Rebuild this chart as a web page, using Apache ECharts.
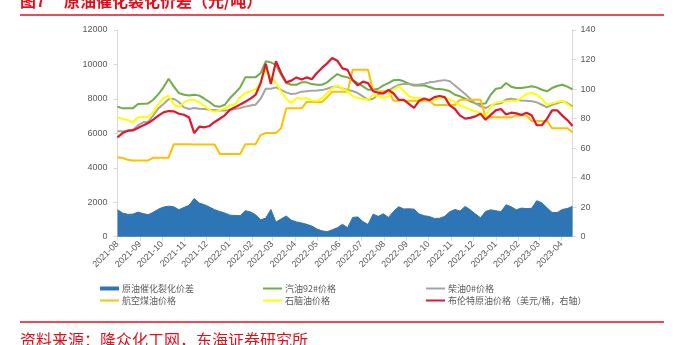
<!DOCTYPE html>
<html><head><meta charset="utf-8">
<script src="https://cdn.jsdelivr.net/npm/echarts@6/dist/echarts.min.js"></script>
<style>html,body{margin:0;padding:0;background:#fff;}#c{width:678px;height:345px;}</style>
</head><body><div id="c"></div>
<script>
// Weekly observation dates
const dates = [
'2021-08-01','2021-08-08','2021-08-15','2021-08-22','2021-08-29','2021-09-05','2021-09-12','2021-09-19','2021-09-26','2021-10-03',
'2021-10-10','2021-10-17','2021-10-24','2021-10-31','2021-11-07','2021-11-14','2021-11-21','2021-11-28','2021-12-05','2021-12-12',
'2021-12-19','2021-12-26','2022-01-02','2022-01-09','2022-01-16','2022-01-23','2022-01-30','2022-02-06','2022-02-13','2022-02-20',
'2022-02-27','2022-03-06','2022-03-13','2022-03-20','2022-03-27','2022-04-03','2022-04-10','2022-04-17','2022-04-24','2022-05-01',
'2022-05-08','2022-05-15','2022-05-22','2022-05-29','2022-06-05','2022-06-12','2022-06-19','2022-06-26','2022-07-03','2022-07-10',
'2022-07-17','2022-07-24','2022-07-31','2022-08-07','2022-08-14','2022-08-21','2022-08-28','2022-09-04','2022-09-11','2022-09-18',
'2022-09-25','2022-10-02','2022-10-09','2022-10-16','2022-10-23','2022-10-30','2022-11-06','2022-11-13','2022-11-20','2022-11-27',
'2022-12-04','2022-12-11','2022-12-18','2022-12-25','2023-01-01','2023-01-08','2023-01-15','2023-01-22','2023-01-29','2023-02-05',
'2023-02-12','2023-02-19','2023-02-26','2023-03-05','2023-03-12','2023-03-19','2023-03-26','2023-04-02','2023-04-09','2023-04-16'
];

// 原油催化裂化价差 (元/吨)
const crackSpread = [
1570,1370,1300,1310,1430,1340,1280,1420,1600,1720,
1770,1740,1570,1700,1820,2220,1950,1860,1720,1570,
1470,1370,1250,1230,1220,1510,1440,1280,980,1080,
1580,850,1030,1200,960,860,800,720,620,450,
340,290,400,520,720,520,1120,1150,880,710,
1310,1180,1330,1120,1470,1740,1610,1620,1600,1320,
1220,1170,1060,1070,1180,1450,1580,1490,1760,1560,
1320,1100,1470,1560,1510,1450,1850,1740,1560,1660,
1630,1650,2090,1970,1680,1410,1400,1580,1640,1760
];

// 汽油92#价格
const gasoline92 = [
7550,7450,7450,7450,7700,7720,7740,7950,8280,8670,
9170,8730,8340,8240,8200,8240,8190,8010,7820,7590,
7550,7660,8050,8340,8670,9250,9250,9250,9500,10180,
10120,9980,9400,8920,8820,8820,8960,8960,8860,8820,
8820,8960,9210,9440,9310,9250,9110,8920,8730,8530,
8530,8590,8780,8920,9090,9110,9020,8880,8780,8780,
8780,8690,8590,8570,8530,8440,8240,8150,8010,7860,
7740,7700,7740,8240,8590,8630,8920,8710,8630,8630,
8670,8730,8670,8530,8440,8630,8750,8820,8710,8550
];

// 柴油0#价格
const diesel0 = [
6115,6115,6150,6210,6460,6640,6680,7050,7450,7700,
7980,8010,7820,7510,7410,7470,7430,7410,7370,7350,
7330,7330,7360,7410,7470,7550,7620,7660,8010,8590,
8590,8670,8530,8380,8280,8320,8420,8440,8480,8490,
8510,8590,8690,8730,8600,8520,8460,8340,8150,7950,
8010,8240,8340,8480,8670,8820,8860,8860,8820,8840,
8880,8960,9000,9060,9090,9020,8780,8530,8280,8010,
7740,7570,7470,7620,7700,7740,7970,8010,7970,7910,
7890,7860,7800,7660,7510,7660,7740,7860,7760,7570
];

// 航空煤油价格
const jetFuel = [
4610,4570,4470,4430,4430,4430,4430,4590,4590,4590,
4590,5370,5370,5370,5370,5350,5350,5350,5350,5350,
4800,4800,4800,4800,4800,5370,5370,5370,5900,6020,
6020,6020,6290,7450,7450,7450,7450,7820,7820,7820,
7820,8100,8420,8420,8420,8420,9690,9690,9690,9690,
8450,8450,8450,8450,7890,7890,7890,7890,7890,7890,
7890,7890,7650,7650,7650,7650,7650,7950,7950,7950,
7950,7950,6930,6930,6930,6930,6930,6930,7040,7040,
7040,6720,6720,6720,6720,6300,6300,6300,6300,6060
];

// 石脑油价格
const naphtha = [
6930,6830,6770,6640,6930,6950,6970,7240,7700,8050,
8190,7700,7510,7800,7930,7930,7800,7600,7350,7260,
7350,7450,7620,7660,8100,8340,8440,8570,8920,9750,
9250,8920,8440,8010,7760,8050,8010,8050,7910,7890,
8050,8340,8630,8780,8600,8450,8150,8050,8010,7950,
8240,8150,8050,8150,8530,8730,8440,8150,8050,8050,
8010,7970,7950,8050,8090,7970,7820,7620,7510,7370,
7280,7180,6970,7570,7780,7840,7860,7890,7890,8050,
8280,8340,8240,8010,7660,7740,7820,7890,7700,7470
];

// 布伦特原油价格 (美元/桶, 右轴)
const brent = [
67.3,70.2,71.8,72.0,73.6,75.4,77.0,79.3,82.0,84.2,
85.1,84.9,83.3,82.6,80.8,70.2,74.5,74.1,75.0,77.7,
79.9,82.2,86.0,87.6,89.6,91.4,93.5,96.0,104.1,117.2,
103.4,118.8,110.9,104.5,105.7,107.9,106.4,107.9,106.6,110.9,
114.3,117.4,121.0,119.2,114.0,113.0,106.0,102.5,105.0,104.0,
98.5,97.5,97.0,99.5,97.0,92.7,92.7,90.0,87.3,92.0,
93.6,92.4,94.5,95.3,94.5,89.0,86.5,82.0,80.0,80.5,
81.5,83.3,79.2,82.5,85.6,86.5,82.8,84.0,83.5,82.5,
84.0,82.3,75.5,75.5,79.8,85.6,85.6,82.0,79.0,75.0
];

const seriesNames = ['原油催化裂化价差','汽油92#价格','柴油0#价格','航空煤油价格','石脑油价格','布伦特原油价格（美元/桶，右轴）'];
const seriesColors = ['#2E75B6','#70AD47','#A5A5A5','#FFC000','#FFFF00','#E0182D'];
const leftTicks = [0, 12000, 2000];
const rightTicks = [0, 140, 20];

const titleNo = '图7';
const titleText = '原油催化裂化价差（元/吨）';
const sourceText = '资料来源：隆众化工网，东海证券研究所';

const pair = arr => dates.map((d, i) => [d, arr[i]]);
const DAY = 24 * 3600 * 1000;
const RED = '#E2101F';
const LABEL = '#595959';
const AXIS = '#D9D9D9';
const FONT = 'Liberation Sans, Arial, Noto Sans CJK SC, sans-serif';
const CJK = 'Noto Sans CJK SC, sans-serif';

const chart = echarts.init(document.getElementById('c'), null, {renderer: 'canvas'});

const legendPos = [[100, 284], [263, 284], [426, 284], [100, 296], [263, 296], [426, 296]];
const legends = seriesNames.map((n, k) => ({
  data: [n],
  left: legendPos[k][0], top: legendPos[k][1],
  icon: 'rect',
  itemWidth: 19, itemHeight: k === 0 ? 4 : 2,
  padding: 0,
  textStyle: {color: LABEL, fontSize: 9, fontFamily: CJK, padding: [0, 0, 0, -2]},
  selectedMode: false
}));

const lineSeries = (k, arr, yi, w) => ({
  name: seriesNames[k], type: 'line', data: pair(arr), yAxisIndex: yi,
  showSymbol: false, symbol: 'none', smooth: false,
  lineStyle: {color: seriesColors[k], width: w}, itemStyle: {color: seriesColors[k]},
  emphasis: {disabled: true}, animation: false, z: 2 + k
});

chart.setOption({
  animation: false,
  backgroundColor: '#fff',
  grid: {left: 117.5, right: 105.5, top: 30, bottom: 108.3, containLabel: false},
  legend: legends,
  xAxis: {
    type: 'time',
    min: dates[0], max: dates[dates.length - 1],
    splitNumber: 20, minInterval: 28 * DAY, maxInterval: 31 * DAY,
    axisLine: {show: true, lineStyle: {color: AXIS, width: 1}},
    axisTick: {show: true, length: 4, lineStyle: {color: AXIS}},
    axisLabel: {formatter: '{yyyy}-{MM}', rotate: 45, fontSize: 9, color: LABEL, fontFamily: FONT, margin: 6, showMaxLabel: false, hideOverlap: false},
    splitLine: {show: false}
  },
  yAxis: [
    {type: 'value', min: leftTicks[0], max: leftTicks[1], interval: leftTicks[2], position: 'left',
     axisLine: {show: true, lineStyle: {color: AXIS}}, axisTick: {show: true, length: 4, lineStyle: {color: AXIS}},
     axisLabel: {fontSize: 9, color: LABEL, fontFamily: FONT, margin: 10, formatter: v => String(v)}, splitLine: {show: false}},
    {type: 'value', min: rightTicks[0], max: rightTicks[1], interval: rightTicks[2], position: 'right',
     axisLine: {show: true, lineStyle: {color: AXIS}}, axisTick: {show: true, length: 4, lineStyle: {color: AXIS}},
     axisLabel: {fontSize: 9, color: LABEL, fontFamily: FONT, margin: 8, formatter: v => String(v)}, splitLine: {show: false}}
  ],
  series: [
    {name: seriesNames[0], type: 'line', data: pair(crackSpread), yAxisIndex: 0,
     showSymbol: false, symbol: 'none', lineStyle: {color: seriesColors[0], width: 1},
     itemStyle: {color: seriesColors[0]}, areaStyle: {color: seriesColors[0], opacity: 1},
     emphasis: {disabled: true}, z: 1},
    lineSeries(1, gasoline92, 0, 2),
    lineSeries(2, diesel0, 0, 2),
    lineSeries(3, jetFuel, 0, 2),
    lineSeries(4, naphtha, 0, 2),
    lineSeries(5, brent, 1, 2.2)
  ],
  graphic: [
    {type: 'text', left: 20, top: -7, style: {text: titleNo, fill: RED, font: 'bold 16px ' + CJK}},
    {type: 'text', left: 64, top: -7, style: {text: titleText, fill: RED, font: 'bold 16px ' + CJK}},
    {type: 'line', shape: {x1: 20, y1: 15, x2: 664, y2: 15}, style: {stroke: RED, lineWidth: 1.5}},
    {type: 'line', shape: {x1: 20, y1: 322, x2: 664, y2: 322}, style: {stroke: RED, lineWidth: 1.5}},
    {type: 'text', left: 20, top: 332, style: {text: sourceText, fill: RED, font: '16px ' + CJK}}
  ]
});
</script>
</body></html>
